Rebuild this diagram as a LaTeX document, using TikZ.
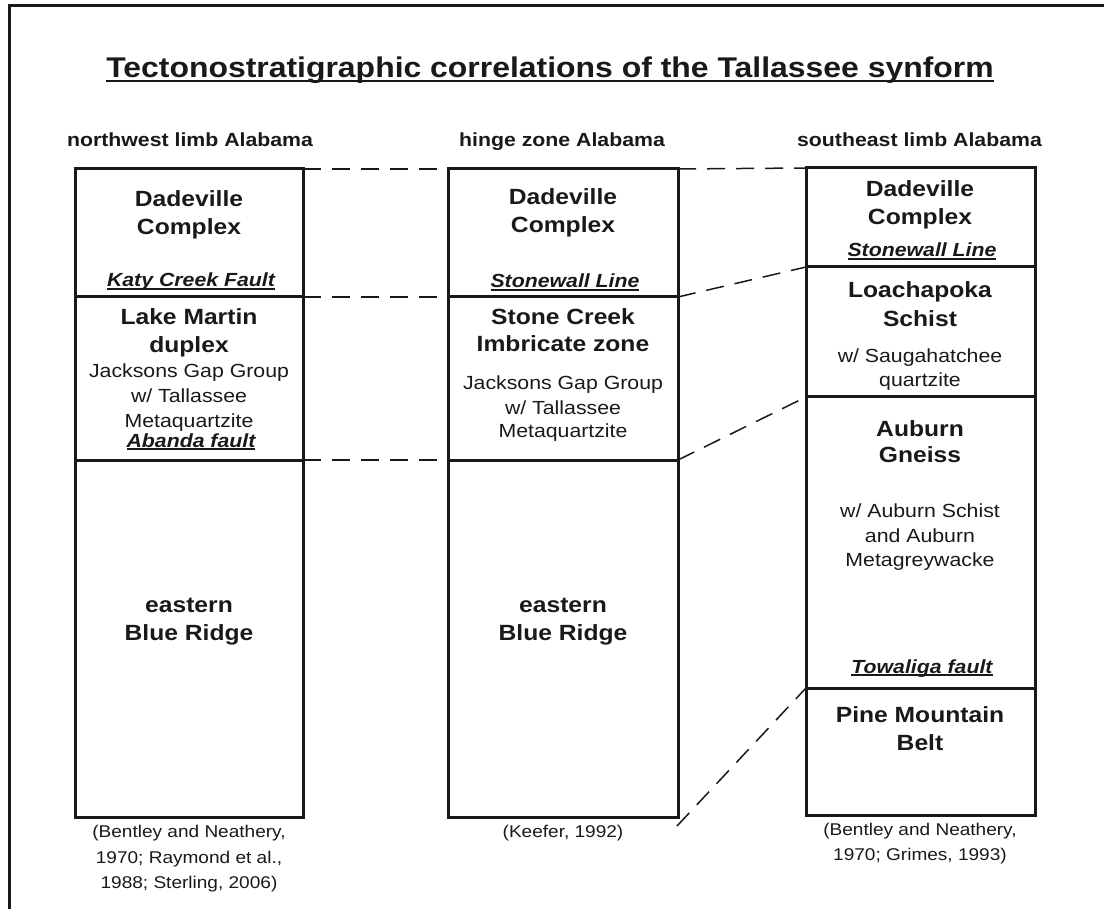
\documentclass[tikz,border=0pt]{standalone}
\usepackage{fontspec}
\setmainfont{Liberation Sans}[FakeStretch=1.12]
\newcommand\myul[2][3pt]{\setbox0=\hbox{#2}\rlap{\rule[-#1]{\wd0}{1.6pt}}\box0}
\definecolor{ink}{gray}{0.1}
\tikzset{
  layer/.style={draw=ink, line width=3pt, inner sep=0pt, outer sep=0pt, anchor=north west},
  corr/.style={draw=ink, line width=1.5pt, dash pattern=on 18pt off 11pt},
  lbl/.style={anchor=base, inner sep=0pt, text=ink},
  titlelbl/.style={lbl, font=\fontsize{28.5}{34}\selectfont\bfseries},
  headlbl/.style={lbl, font=\fontsize{19}{23}\selectfont\bfseries},
  unitlbl/.style={lbl, font=\fontsize{22}{26}\selectfont\bfseries},
  faultlbl/.style={lbl, font=\fontsize{19}{23}\selectfont\bfseries\itshape},
  desclbl/.style={lbl, font=\fontsize{19}{23}\selectfont},
  reflbl/.style={lbl, font=\fontsize{17}{20}\selectfont},
}
\begin{document}
\begin{tikzpicture}[x=1pt, y=-1pt]
\useasboundingbox (0,0) rectangle (1104,909);
% frame
\draw[ink, line width=3pt] (9,909) -- (9,6) -- (1104,6);
% title and headers
\node[titlelbl] (title) at (550,78) {\myul[4pt]{Tectonostratigraphic correlations of the Tallassee synform}};
\node[headlbl] (hL) at (190,147) {northwest limb Alabama};
\node[headlbl] (hM) at (562,147) {hinge zone Alabama};
\node[headlbl] (hR) at (919.5,147) {southeast limb Alabama};
% layers
\node[layer, minimum width=228pt, minimum height=128pt] (L1) at (75,169) {};
\node[layer, minimum width=228pt, minimum height=163pt] (L2) at (75,297) {};
\node[layer, minimum width=228pt, minimum height=357pt] (L3) at (75,460) {};
\node[layer, minimum width=230pt, minimum height=128pt] (M1) at (448,169) {};
\node[layer, minimum width=230pt, minimum height=163pt] (M2) at (448,297) {};
\node[layer, minimum width=230pt, minimum height=357pt] (M3) at (448,460) {};
\node[layer, minimum width=229pt, minimum height=99pt] (R1) at (806,168) {};
\node[layer, minimum width=229pt, minimum height=130pt] (R2) at (806,267) {};
\node[layer, minimum width=229pt, minimum height=291pt] (R3) at (806,397) {};
\node[layer, minimum width=229pt, minimum height=127pt] (R4) at (806,688) {};
% correlation lines
\coordinate (kend) at (677,826);
\draw[corr] (L1.north east) -- (M1.north west);
\draw[corr] (M1.north east) -- (R1.north west);
\draw[corr] (L1.south east) -- (M1.south west);
\draw[corr] (M1.south east) -- (R1.south west);
\draw[corr] (L2.south east) -- (M2.south west);
\draw[corr] (M2.south east) -- (R2.south west);
\draw[corr] (kend) -- (R3.south west);
% left column
\node[unitlbl] (l1) at (189,206.7) {Dadeville};
\node[unitlbl] (l2) at (189,235) {Complex};
\node[faultlbl] (l3) at (191,287) {\myul{Katy Creek Fault}};
\node[unitlbl] (l4) at (189,325) {Lake Martin};
\node[unitlbl] (l5) at (189,353) {duplex};
\node[desclbl] (l6) at (189,378) {Jacksons Gap Group};
\node[desclbl] (l7) at (189,403) {w/ Tallassee};
\node[desclbl] (l8) at (189,428) {Metaquartzite};
\node[faultlbl] (l9) at (191,447) {\myul{Abanda fault}};
\node[unitlbl] (l10) at (189,612) {eastern};
\node[unitlbl] (l11) at (189,640) {Blue Ridge};
\node[reflbl] (l12) at (189,837) {(Bentley and Neathery,};
\node[reflbl] (l13) at (189,863) {1970; Raymond et al.,};
\node[reflbl] (l14) at (189,888) {1988; Sterling, 2006)};
% middle column
\node[unitlbl] (m1) at (563,205) {Dadeville};
\node[unitlbl] (m2) at (563,233) {Complex};
\node[faultlbl] (m3) at (565,288) {\myul{Stonewall Line}};
\node[unitlbl] (m4) at (563,325) {Stone Creek};
\node[unitlbl] (m5) at (563,352) {Imbricate zone};
\node[desclbl] (m6) at (563,390) {Jacksons Gap Group};
\node[desclbl] (m7) at (563,414) {w/ Tallassee};
\node[desclbl] (m8) at (563,438) {Metaquartzite};
\node[unitlbl] (m9) at (563,612) {eastern};
\node[unitlbl] (m10) at (563,640) {Blue Ridge};
\node[reflbl] (m11) at (563,837) {(Keefer, 1992)};
% right column
\node[unitlbl] (r1) at (920,197) {Dadeville};
\node[unitlbl] (r2) at (920,225) {Complex};
\node[faultlbl] (r3) at (922,257) {\myul{Stonewall Line}};
\node[unitlbl] (r4) at (920,298) {Loachapoka};
\node[unitlbl] (r5) at (920,327) {Schist};
\node[desclbl] (r6) at (920,363) {w/ Saugahatchee};
\node[desclbl] (r7) at (920,387) {quartzite};
\node[unitlbl] (r8) at (920,437) {Auburn};
\node[unitlbl] (r9) at (920,463) {Gneiss};
\node[desclbl] (r10) at (920,517) {w/ Auburn Schist};
\node[desclbl] (r11) at (920,542) {and Auburn};
\node[desclbl] (r12) at (920,566) {Metagreywacke};
\node[faultlbl] (r13) at (922,673) {\myul{Towaliga fault}};
\node[unitlbl] (r14) at (920,722) {Pine Mountain};
\node[unitlbl] (r15) at (920,750) {Belt};
\node[reflbl] (r16) at (920,835) {(Bentley and Neathery,};
\node[reflbl] (r17) at (920,860) {1970; Grimes, 1993)};
\end{tikzpicture}
\end{document}
